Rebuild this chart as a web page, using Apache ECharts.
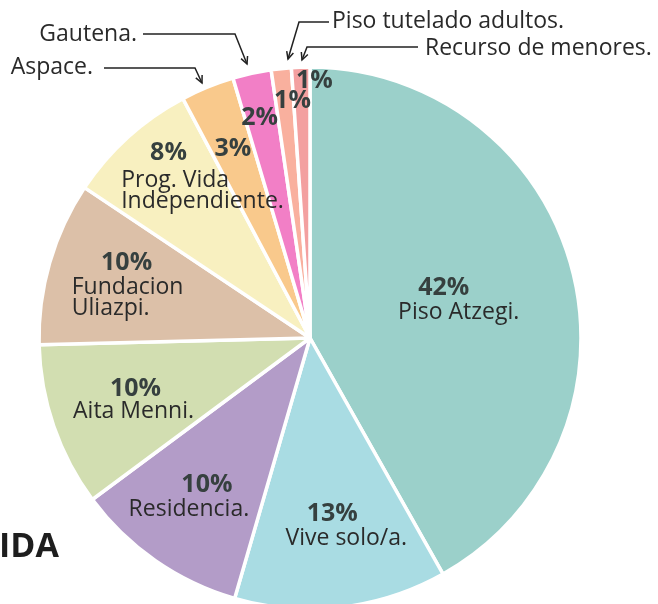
<!DOCTYPE html>
<html><head><meta charset="utf-8">
<script src="https://cdn.jsdelivr.net/npm/echarts@6/dist/echarts.min.js"></script>
<style>html,body{margin:0;padding:0;background:#fff}#c{width:658px;height:604px}</style>
</head><body><div id="c"></div>
<script>
// ---- data ----
const categories = ['Piso Atzegi.', 'Vive solo/a.', 'Residencia.', 'Aita Menni.', 'Fundacion\nUliazpi.',
  'Prog. Vida\nIndependiente.', 'Aspace.', 'Gautena.', 'Piso tutelado adultos.', 'Recurso de menores.'];
const values = [42, 12.7, 10.4, 9.8, 9.8, 7.9, 3.2, 2.3, 1.2, 1.1];
const colors = ['#9bd0ca', '#a9dce3', '#b39cc8', '#d2deb1', '#dcc0a8', '#f8f0c0', '#f9c98c', '#f27fc6', '#f9b09e', '#f3a0a0'];
const nameInside = [true, true, true, true, true, true, false, false, false, false];
const chartTitle = 'IDA';

// ---- layout / style config ----
const CX = 310, CY = 338, R = 271;
const FONT = '"Open Sans", "Noto Sans", sans-serif';
const pctNudge = [[-53, -1], [0, -16], [7, -12], [8, -12], [2, -21], [-12, -42], [-4, -10], [-9, -32], [3, -45], [11, -64]];
const nameNudge = [[-38, 23], [14, 9], [-11, 13], [6, 11], [3, 14], [22, -4], [0, 0], [0, 0], [0, 0], [0, 0]];
const outsideAnnot = {
  6: { x: 93, y: 67, align: 'right', line: [[202, 83], [195, 68], [104, 68]] },
  7: { x: 137, y: 34, align: 'right', line: [[247, 64], [235, 34], [143, 34]] },
  8: { x: 332, y: 21, align: 'left', line: [[288, 59], [299, 22], [329, 22]] },
  9: { x: 425, y: 48, align: 'left', line: [[302, 60], [307, 47], [418, 47]] }
};

const chart = echarts.init(document.getElementById('c'), null, { renderer: 'canvas' });

const baseData = categories.map((c, i) => ({ name: c, value: values[i] }));
const transparent = { color: 'rgba(0,0,0,0)', borderWidth: 0 };

const arrowHeads = Object.keys(outsideAnnot).map(k => {
  const [tip, bend] = outsideAnnot[k].line;
  const ang = Math.atan2(tip[1] - bend[1], tip[0] - bend[0]);
  const L = 8, w = 0.45;
  return {
    type: 'polyline', silent: true, z: 100,
    shape: { points: [
      [tip[0] - L * Math.cos(ang - w), tip[1] - L * Math.sin(ang - w)],
      tip,
      [tip[0] - L * Math.cos(ang + w), tip[1] - L * Math.sin(ang + w)]
    ] },
    style: { stroke: '#222', lineWidth: 1.5, fill: null }
  };
});

const ringBase = { type: 'pie', center: [CX, CY], radius: [109, R], startAngle: 90, clockwise: true, silent: true, itemStyle: transparent, labelLine: { show: false } };

chart.setOption({
  animation: false,
  backgroundColor: '#fff',
  graphic: [
    { type: 'text', left: -1, top: 530, silent: true,
      style: { text: chartTitle, font: 'bold 34px ' + FONT, fill: '#1e1e1e' } }
  ].concat(arrowHeads),
  series: [
    {
      type: 'pie', center: [CX, CY], radius: R, startAngle: 90, clockwise: true,
      silent: true,
      label: { show: false }, labelLine: { show: false },
      itemStyle: { borderColor: '#fff', borderWidth: 3.5 },
      data: baseData.map((d, i) => ({ ...d, itemStyle: { color: colors[i] } }))
    },
    Object.assign({}, ringBase, {
      label: {
        show: true, position: 'inside',
        formatter: p => Math.round(p.percent) + '%',
        fontFamily: FONT, fontSize: 25, fontWeight: 'bold', color: '#36403f', lineHeight: 28
      },
      labelLayout: p => ({ dx: pctNudge[p.dataIndex][0], dy: pctNudge[p.dataIndex][1] }),
      data: baseData
    }),
    Object.assign({}, ringBase, {
      label: {
        show: true, position: 'inside',
        formatter: p => p.name.split('\n').map(s => '{n|' + s + '}').join('\n'),
        rich: { n: { fontFamily: FONT, fontSize: 23, color: '#2a2a2a', lineHeight: 21, align: 'left' } }
      },
      labelLayout: p => ({ dx: nameNudge[p.dataIndex][0], dy: nameNudge[p.dataIndex][1] }),
      data: baseData.map((d, i) => nameInside[i] ? d : { ...d, label: { show: false } })
    }),
    {
      type: 'pie', center: [CX, CY], radius: R, startAngle: 90, clockwise: true,
      silent: true, itemStyle: transparent, avoidLabelOverlap: false,
      label: { show: true, position: 'outside', formatter: '{b}', fontFamily: FONT, fontSize: 23, color: '#2a2a2a' },
      labelLine: { show: true, lineStyle: { color: '#222', width: 1.5 } },
      labelLayout: p => {
        const a = outsideAnnot[p.dataIndex];
        if (!a) return {};
        return { x: a.x, y: a.y, align: a.align, verticalAlign: 'middle', labelLinePoints: a.line };
      },
      data: baseData.map((d, i) => outsideAnnot[i] ? d : { ...d, label: { show: false }, labelLine: { show: false } })
    }
  ]
});
</script></body></html>
